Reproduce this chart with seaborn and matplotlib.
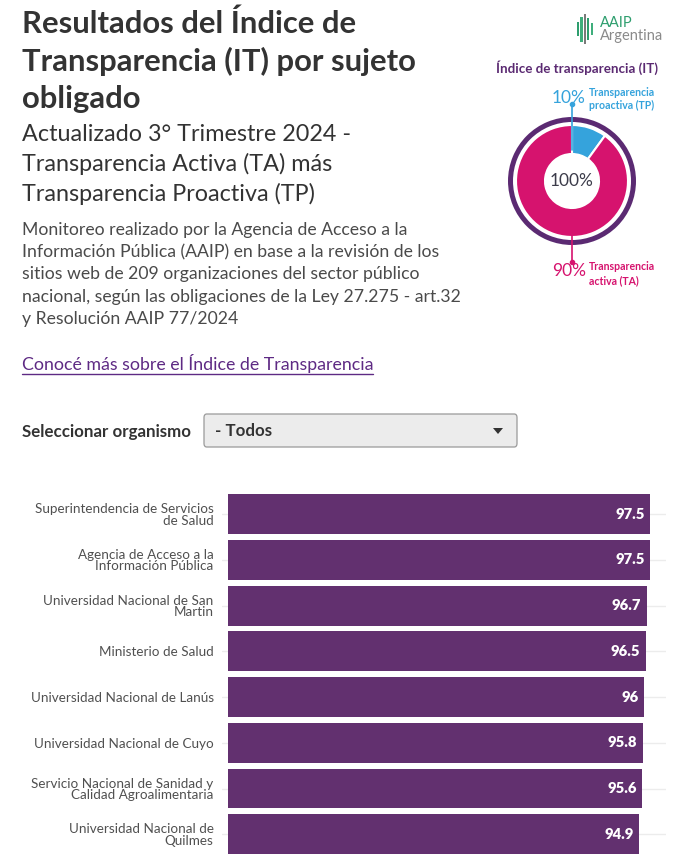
import matplotlib
matplotlib.use("Agg")
import matplotlib.pyplot as plt
import seaborn as sns
import pandas as pd
from matplotlib.patches import Wedge, FancyBboxPatch, Rectangle, Polygon

# ---------------- data ----------------
organismos = [
    "Superintendencia de Servicios\nde Salud",
    "Agencia de Acceso a la\nInformación Pública",
    "Universidad Nacional de San\nMartin",
    "Ministerio de Salud",
    "Universidad Nacional de Lanús",
    "Universidad Nacional de Cuyo",
    "Servicio Nacional de Sanidad y\nCalidad Agroalimentaria",
    "Universidad Nacional de\nQuilmes",
]
indice = [97.5, 97.5, 96.7, 96.5, 96, 95.8, 95.6, 94.9]
valor_labels = ["97.5", "97.5", "96.7", "96.5", "96", "95.8", "95.6", "94.9"]

componentes = ["Transparencia proactiva (TP)", "Transparencia activa (TA)"]
componentes_pct = [10, 90]

title_lines = ["Resultados del Índice de", "Transparencia (IT) por sujeto", "obligado"]
subtitle_lines = ["Actualizado 3° Trimestre 2024 -", "Transparencia Activa (TA) más",
                  "Transparencia Proactiva (TP)"]
desc_lines = ["Monitoreo realizado por la Agencia de Acceso a la",
              "Información Pública (AAIP) en base a la revisión de los",
              "sitios web de 209 organizaciones del sector público",
              "nacional, según las obligaciones de la Ley 27.275 - art.32",
              "y Resolución AAIP 77/2024"]

# ---------------- style ----------------
sns.set_theme(style="white")
plt.rcParams["font.family"] = ["Lato", "DejaVu Sans"]

W, H = 694, 856
fig = plt.figure(figsize=(W / 100, H / 100), dpi=100)
fig.patch.set_facecolor("white")

PURPLE = "#62306f"
PINK = "#d6136e"
BLUE = "#35a3dc"
DARK = "#333333"
GREY = "#4a4a4a"


def px(x, y):
    return x / W, 1 - y / H


def ftext(x, y, s, **kw):
    fx, fy = px(x, y)
    return fig.text(fx, fy, s, **kw)


# ---------------- header ----------------
for i, line in enumerate(title_lines):
    ftext(22, 33 + 37.5 * i, line, fontsize=22.3, fontweight="bold", color=DARK, va="baseline")
for i, line in enumerate(subtitle_lines):
    ftext(22, 141 + 30 * i, line, fontsize=16.8, color=DARK, va="baseline")
for i, line in enumerate(desc_lines):
    ftext(22, 235 + 22.2 * i, line, fontsize=12.7, color=GREY, va="baseline")

link = ftext(22, 370, "Conocé más sobre el Índice de Transparencia", fontsize=12.8,
             color="#5e2a84", va="baseline")
fig.canvas.draw()
bb = link.get_window_extent()
fig.add_artist(plt.Line2D([bb.x0 / W, bb.x1 / W], [1 - 374 / H, 1 - 374 / H],
                          color="#5e2a84", lw=1, transform=fig.transFigure))

ftext(22, 437, "Seleccionar organismo", fontsize=12.2, fontweight="bold", color=DARK, va="baseline")
box = FancyBboxPatch(px(204, 447), 313 / W, 33 / H, boxstyle="round,pad=0,rounding_size=0.004",
                     transform=fig.transFigure, facecolor="#ececec", edgecolor="#9a9a9a", lw=0.9)
fig.add_artist(box)
ftext(215, 436, "- Todos", fontsize=12.2, fontweight="bold", color=DARK, va="baseline")
tri = Polygon([px(493, 428), px(503, 428), px(498, 434)], closed=True,
              transform=fig.transFigure, facecolor="#333333", edgecolor="none")
fig.add_artist(tri)

# ---------------- logo ----------------
logo_cols = ["#2e9e6e", "#3fae7c", "#7a7a7a", "#2e9e6e", "#3fae7c"]
logo_h = [(22, 36), (17, 42), (14, 44), (18, 40), (23, 35)]
for k, (y0, y1) in enumerate(logo_h):
    x0 = 577 + k * 3.4
    fig.add_artist(Rectangle(px(x0, y1), 2.2 / W, (y1 - y0) / H, transform=fig.transFigure,
                             facecolor=logo_cols[k], edgecolor="none"))
ftext(600, 27, "AAIP", fontsize=10.5, color="#2e9e6e", va="baseline")
ftext(600, 40, "Argentina", fontsize=10.5, color="#8a8a8a", va="baseline")

# ---------------- donut ----------------
ftext(577, 73, "Índice de transparencia (IT)", fontsize=9.6, fontweight="bold",
      color="#5b2a72", ha="center", va="baseline")

cx, cy, S = 572, 181, 150
axd = fig.add_axes([(cx - S / 2) / W, 1 - (cy + S / 2) / H, S / W, S / H])
axd.set_xlim(-S / 2, S / 2)
axd.set_ylim(-S / 2, S / 2)
axd.set_aspect("equal")
axd.axis("off")
axd.pie(componentes_pct, colors=[BLUE, PINK], radius=56, startangle=90, counterclock=False,
        wedgeprops=dict(width=29, edgecolor="white", linewidth=1.5))
axd.add_patch(Wedge((0, 0), 64, 0, 360, width=5, facecolor="#5b2a72", edgecolor="none"))
axd.text(0, 0, "100%", ha="center", va="center", fontsize=12.5, color="#3c3c4a")
axd.set_xlim(-S / 2, S / 2)
axd.set_ylim(-S / 2, S / 2)

# leader lines
fig.add_artist(plt.Line2D([px(572, 104)[0]] * 2, [px(0, 104)[1], px(0, 150)[1]], color=BLUE, lw=1.2,
                          transform=fig.transFigure))
fig.add_artist(plt.Line2D([px(572, 104)[0]], [px(0, 104)[1]], color=BLUE, marker="o", ms=3,
                          transform=fig.transFigure))
fig.add_artist(plt.Line2D([px(572, 230)[0]] * 2, [px(0, 230)[1], px(0, 262)[1]], color=PINK, lw=1.2,
                          transform=fig.transFigure))
fig.add_artist(plt.Line2D([px(572, 262)[0]], [px(0, 262)[1]], color=PINK, marker="o", ms=3,
                          transform=fig.transFigure))

ftext(569, 103, f"{componentes_pct[0]}%", fontsize=12.5, color=BLUE, ha="center", va="baseline")
ftext(589, 96, "Transparencia", fontsize=7.6, fontweight="bold", color=BLUE, va="baseline")
ftext(589, 109, "proactiva (TP)", fontsize=7.6, fontweight="bold", color=BLUE, va="baseline")
ftext(569, 276, f"{componentes_pct[1]}%", fontsize=12.5, color=PINK, ha="center", va="baseline")
ftext(589, 270, "Transparencia", fontsize=7.6, fontweight="bold", color=PINK, va="baseline")
ftext(589, 284, "activa (TA)", fontsize=7.6, fontweight="bold", color=PINK, va="baseline")

# ---------------- bars ----------------
pitch = 45.7
top = 514.3 - pitch / 2
bottom = top + pitch * len(organismos)
x_left, x_right = 222, 666
scale = (650 - 228) / 97.5
ax = fig.add_axes([x_left / W, 1 - bottom / H, (x_right - x_left) / W, (bottom - top) / H])
df = pd.DataFrame({"organismo": organismos, "indice": indice})
sns.barplot(data=df, y="organismo", x="indice", orient="h", color=PURPLE, saturation=1,
            width=0.875, ax=ax, zorder=3)
ax.set_xlim(-(228 - x_left) / scale, (x_right - 228) / scale)
ax.set_ylim(len(organismos) - 0.5, -0.5)
for p in ax.patches:
    p.set_edgecolor("none")
for i, (v, s) in enumerate(zip(indice, valor_labels)):
    ax.text(v - 1.2, i, s, ha="right", va="center", color="white", fontsize=10.6,
            fontweight="heavy", zorder=5)
for i in range(len(organismos)):
    ax.axhline(i, color="#ececec", lw=1, zorder=1)
ax.set_xlabel("")
ax.set_ylabel("")
ax.set_xticks([])
ax.tick_params(axis="y", length=0, pad=6)
for lab in ax.get_yticklabels():
    lab.set_fontsize(9.7)
    lab.set_color("#505050")
    lab.set_linespacing(0.95)
    lab.set_horizontalalignment("right")
for sp in ax.spines.values():
    sp.set_visible(False)

fig.savefig("out.png", dpi=100, facecolor="white")
